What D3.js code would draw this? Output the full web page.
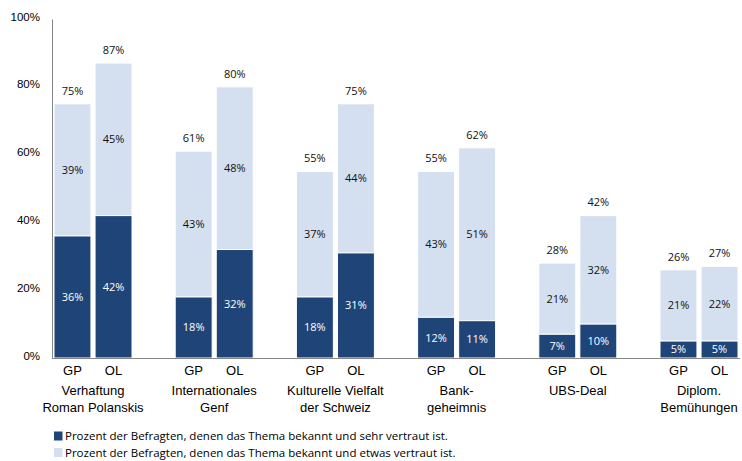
<!DOCTYPE html>
<html>
<head>
<meta charset="utf-8">
<script src="https://cdn.jsdelivr.net/npm/d3@7"></script>
<style>
  body { margin: 0; background: #fff; }
  svg { display: block; }
</style>
</head>
<body>
<div id="chart"></div>
<script>
"use strict";

// topics, two lines each
const topics = [
    ["Verhaftung", "Roman Polanskis"],
    ["Internationales", "Genf"],
    ["Kulturelle Vielfalt", "der Schweiz"],
    ["Bank-", "geheimnis"],
    ["UBS-Deal", ""],
    ["Diplom.", "Bemühungen"]
];
const sources = ["GP", "OL"];

// % very familiar (dark) and somewhat familiar (light)
const sehrGP = [36, 18, 18, 12, 7, 5];
const sehrOL = [42, 32, 31, 11, 10, 5];
const etwasGP = [39, 43, 37, 43, 21, 21];
const etwasOL = [45, 48, 44, 51, 32, 22];

const yTicks = [0, 20, 40, 60, 80, 100];
const legendLabels = [
    "Prozent der Befragten, denen das Thema bekannt und sehr vertraut ist.",
    "Prozent der Befragten, denen das Thema bekannt und etwas vertraut ist."
];

const width = 742, height = 461;
const dark = "#1f4578", light = "#d4e0ef";
const calibriLike = "'Open Sans', 'Noto Sans', sans-serif";
const arialLike = "'Liberation Sans', Arial, sans-serif";

const rows = [];
topics.forEach((t, i) => {
    rows.push({ topic: i, src: "GP", sehr: sehrGP[i], etwas: etwasGP[i] });
    rows.push({ topic: i, src: "OL", sehr: sehrOL[i], etwas: etwasOL[i] });
});

const svg = d3.select("#chart").append("svg")
    .attr("width", width).attr("height", height);

const y = d3.scaleLinear().domain([0, 100]).range([358, 19]);
const x0 = d3.scaleBand().domain(d3.range(topics.length)).range([32.4, 759.6]).padding(0);
const x1 = d3.scaleBand().domain(sources).range([21.6, 99.6]).paddingInner(0.1);

// y axis
const yAxis = svg.append("g").attr("transform", "translate(52,0)")
    .call(d3.axisLeft(y).tickValues(yTicks).tickSize(0).tickPadding(12).tickFormat(d => d + "%"));
yAxis.select(".domain").attr("stroke", "#868686");
yAxis.selectAll("text").attr("font-family", arialLike).attr("font-size", 11.5).attr("fill", "#000")
    .attr("dy", "0.1em");

// bars
const groups = svg.selectAll("g.topic").data(topics).join("g")
    .attr("class", "topic")
    .attr("transform", (d, i) => `translate(${x0(i)},0)`);

const bar = groups.selectAll("g.bar")
    .data((d, i) => rows.filter(r => r.topic === i))
    .join("g").attr("class", "bar")
    .attr("transform", d => `translate(${x1(d.src)},0)`);

const bw = x1.bandwidth();

bar.append("rect")
    .attr("y", d => y(d.sehr + d.etwas))
    .attr("width", bw)
    .attr("height", d => y(d.sehr) - y(d.sehr + d.etwas))
    .attr("fill", light).attr("stroke", "#fff").attr("stroke-width", 1);

bar.append("rect")
    .attr("y", d => y(d.sehr))
    .attr("width", bw)
    .attr("height", d => y(0) - y(d.sehr))
    .attr("fill", dark).attr("stroke", "#fff").attr("stroke-width", 1);

bar.append("text")
    .attr("x", bw / 2).attr("y", d => y(d.sehr / 2)).attr("dy", "0.35em")
    .attr("text-anchor", "middle").attr("fill", "#fff")
    .attr("font-family", calibriLike).attr("font-size", 11)
    .text(d => d.sehr + "%");

bar.append("text")
    .attr("x", bw / 2).attr("y", d => y(d.sehr + d.etwas / 2)).attr("dy", "0.35em")
    .attr("text-anchor", "middle").attr("fill", "#111")
    .attr("font-family", calibriLike).attr("font-size", 11)
    .text(d => d.etwas + "%");

bar.append("text")
    .attr("x", bw / 2).attr("y", d => y(d.sehr + d.etwas) - 13).attr("dy", "0.35em")
    .attr("text-anchor", "middle").attr("fill", "#111")
    .attr("font-family", calibriLike).attr("font-size", 11)
    .text(d => (d.sehr + d.etwas) + "%");

// x axis line
svg.append("line")
    .attr("x1", 52).attr("x2", 740).attr("y1", y(0) + 0.5).attr("y2", y(0) + 0.5)
    .attr("stroke", "#868686");

// GP / OL labels
bar.append("text")
    .attr("x", bw / 2).attr("y", 375)
    .attr("text-anchor", "middle").attr("fill", "#000")
    .attr("font-family", arialLike).attr("font-size", 13)
    .text(d => d.src);

// topic labels
groups.each(function (t) {
    const g = d3.select(this);
    const cx = (x1.range()[0] + x1.range()[1]) / 2;
    t.forEach((line, k) => {
        g.append("text")
            .attr("x", cx).attr("y", 395 + k * 17)
            .attr("text-anchor", "middle").attr("fill", "#000")
            .attr("font-family", arialLike).attr("font-size", 13)
            .text(line);
    });
});

// legend
const legend = svg.append("g").attr("transform", "translate(54,436)");
legendLabels.forEach((lbl, i) => {
    legend.append("rect").attr("x", 0).attr("y", i * 16.5 - 4.5).attr("width", 8.5).attr("height", 9)
        .attr("fill", i === 0 ? dark : light);
    legend.append("text").attr("x", 11).attr("y", i * 16.5).attr("dy", "0.35em")
        .attr("font-family", calibriLike).attr("font-size", 11.5).attr("fill", "#000")
        .text(lbl);
});
</script>
</body>
</html>
